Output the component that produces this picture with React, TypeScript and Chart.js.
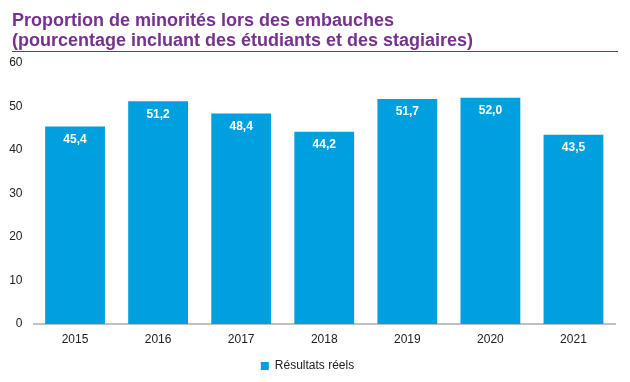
import React, { useEffect, useRef } from "react";
import { Chart, registerables } from "chart.js";

Chart.register(...registerables);

const categories = ["2015", "2016", "2017", "2018", "2019", "2020", "2021"];
const values = [45.4, 51.2, 48.4, 44.2, 51.7, 52.0, 43.5];
const yTicks = [0, 10, 20, 30, 40, 50, 60];
const seriesLabel = "Résultats réels";
const titleLines = [
  "Proportion de minorités lors des embauches",
  "(pourcentage incluant des étudiants et des stagiaires)",
];

const FONT = "'Liberation Sans', Arial, sans-serif";
const BAR = "#009FE0";
const PURPLE = "#76308E";

const titlePlugin = {
  id: "titleRule",
  afterDraw(chart: any) {
    const ctx = chart.ctx;
    ctx.save();
    ctx.fillStyle = PURPLE;
    ctx.font = `bold 18px ${FONT}`;
    ctx.textBaseline = "alphabetic";
    ctx.textAlign = "left";
    ctx.fillText(titleLines[0], 12, 26);
    ctx.fillText(titleLines[1], 12, 46);
    ctx.strokeStyle = PURPLE;
    ctx.lineWidth = 1;
    ctx.beginPath();
    ctx.moveTo(12, 51.5);
    ctx.lineTo(618, 51.5);
    ctx.stroke();
    ctx.restore();
  },
};

const labelPlugin = {
  id: "barLabels",
  afterDatasetsDraw(chart: any) {
    const ctx = chart.ctx;
    const meta = chart.getDatasetMeta(0);
    ctx.save();
    ctx.fillStyle = "#FFFFFF";
    ctx.font = `bold 12px ${FONT}`;
    ctx.textAlign = "center";
    ctx.textBaseline = "middle";
    meta.data.forEach((bar: any, i: number) => {
      const txt = values[i].toFixed(1).replace(".", ",");
      ctx.fillText(txt, bar.x, bar.y + 13);
    });
    ctx.restore();
  },
};

export default function App() {
  const ref = useRef<HTMLCanvasElement>(null);
  useEffect(() => {
    if (!ref.current) return;
    const chart = new Chart(ref.current, {
      type: "bar",
      data: {
        labels: categories,
        datasets: [
          {
            label: seriesLabel,
            data: values,
            backgroundColor: BAR,
            borderWidth: 0,
            categoryPercentage: 1,
            barPercentage: 0.72,
          },
        ],
      },
      options: {
        animation: false,
        responsive: false,
        maintainAspectRatio: false,
        layout: { padding: { top: 63, left: 0, right: 15, bottom: 0 } },
        plugins: {
          tooltip: { enabled: false },
          title: { display: false },
          legend: {
            position: "bottom",
            labels: {
              boxWidth: 8,
              boxHeight: 8,
              padding: 10,
              color: "#222",
              font: { family: FONT, size: 12 },
            },
          },
        },
        scales: {
          x: {
            grid: { display: false, drawTicks: false },
            border: { display: true, color: "#BFBFBF", width: 2 },
            ticks: {
              color: "#222",
              font: { family: FONT, size: 12 },
              padding: 8,
            },
            afterFit(scale: any) {
              scale.height = 26;
            },
          },
          y: {
            min: 0,
            max: 60,
            afterBuildTicks(scale: any) {
              scale.ticks = yTicks.map((v) => ({ value: v }));
            },
            grid: { display: false, drawTicks: false },
            border: { display: false },
            ticks: {
              color: "#222",
              font: { family: FONT, size: 12 },
              padding: 11,
            },
            afterFit(scale: any) {
              scale.width = 33.5;
            },
          },
        },
      },
      plugins: [titlePlugin, labelPlugin],
    });
    return () => chart.destroy();
  }, []);
  return (
    <div style={{ position: "fixed", left: 0, top: 0, width: 630, height: 382, background: "#fff" }}>
      <canvas ref={ref} width={630} height={382} style={{ width: 630, height: 382 }} />
    </div>
  );
}
